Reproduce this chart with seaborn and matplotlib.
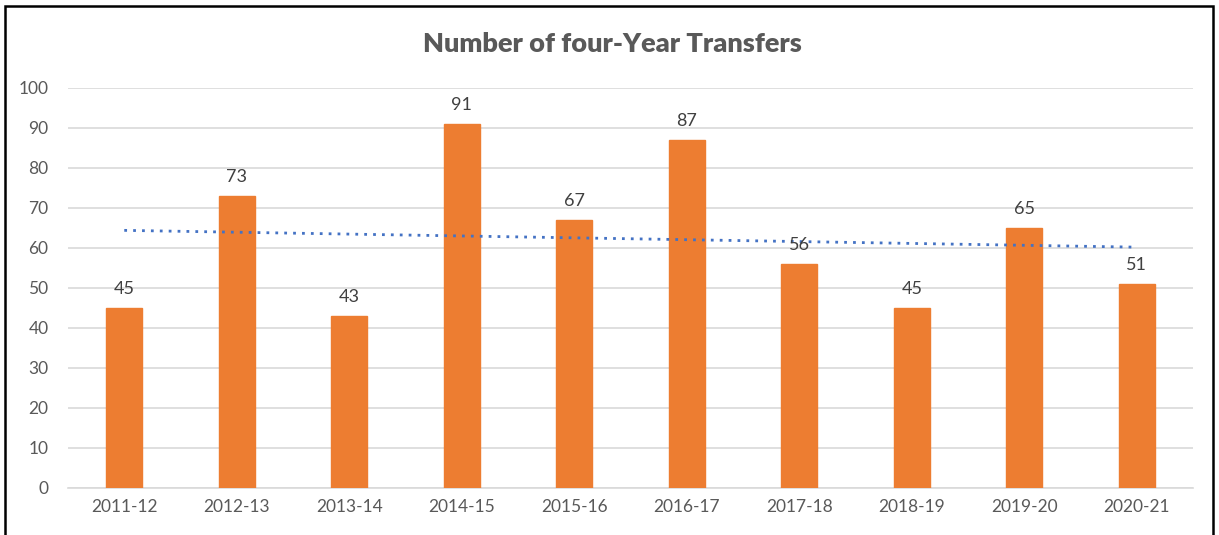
import numpy as np
import pandas as pd
import matplotlib
matplotlib.use("Agg")
import matplotlib.pyplot as plt
import seaborn as sns

# ------------------------------------------------------------
# Data
# ------------------------------------------------------------
years = ["2011-12", "2012-13", "2013-14", "2014-15", "2015-16",
         "2016-17", "2017-18", "2018-19", "2019-20", "2020-21"]
transfers = [45, 73, 43, 91, 67, 87, 56, 45, 65, 51]

df = pd.DataFrame({"year": years, "transfers": transfers})

sns.set_style("white")
plt.rcParams['font.family'] = ['Lato', 'DejaVu Sans']

orange = "#ED7D31"
text_gray = "#595959"

fig = plt.figure(figsize=(12.19, 5.35), dpi=100)
ax = fig.add_axes([0.0558, 0.0879, 0.9229, 0.7477])

sns.barplot(data=df, x="year", y="transfers", color=orange, width=0.32,
            saturation=1, ax=ax, zorder=3, edgecolor=orange)

# data labels
for i, v in enumerate(transfers):
    ax.text(i, v + 2.8, str(v), ha="center", va="bottom",
            fontsize=13, color="#404040", zorder=5)

# linear trendline
x = np.arange(len(transfers))
slope, intercept = np.polyfit(x, transfers, 1)
ax.plot(x, slope * x + intercept, color="#4472C4", linestyle=(0, (1, 2.2)),
        linewidth=2, zorder=4)

ax.set_xlim(-0.5, len(years) - 0.5)
ax.set_ylim(0, 100)
ax.set_yticks(range(0, 101, 10))
ax.yaxis.grid(True, color="#D9D9D9", linewidth=1.2, zorder=0)
ax.set_axisbelow(True)
for s in ["top", "right", "left"]:
    ax.spines[s].set_visible(False)
ax.spines["bottom"].set_color("#D9D9D9")
ax.spines["bottom"].set_linewidth(1.2)
ax.tick_params(axis="both", length=0, labelsize=12.5, colors=text_gray, pad=8)
ax.tick_params(axis="y", pad=14)
ax.set_xlabel("")
ax.set_ylabel("")

fig.text(0.502, 0.918, "Number of four-Year Transfers", ha="center", va="center",
         fontsize=19.5, fontweight="heavy", color=text_gray)

# chart border
border = plt.Rectangle((5 / 1219, -0.05), 1208 / 1219, 1 - 6 / 535 + 0.05,
                       transform=fig.transFigure, fill=False,
                       edgecolor="black", linewidth=1.8)
fig.patches.append(border)

fig.savefig("out.png", dpi=100)
